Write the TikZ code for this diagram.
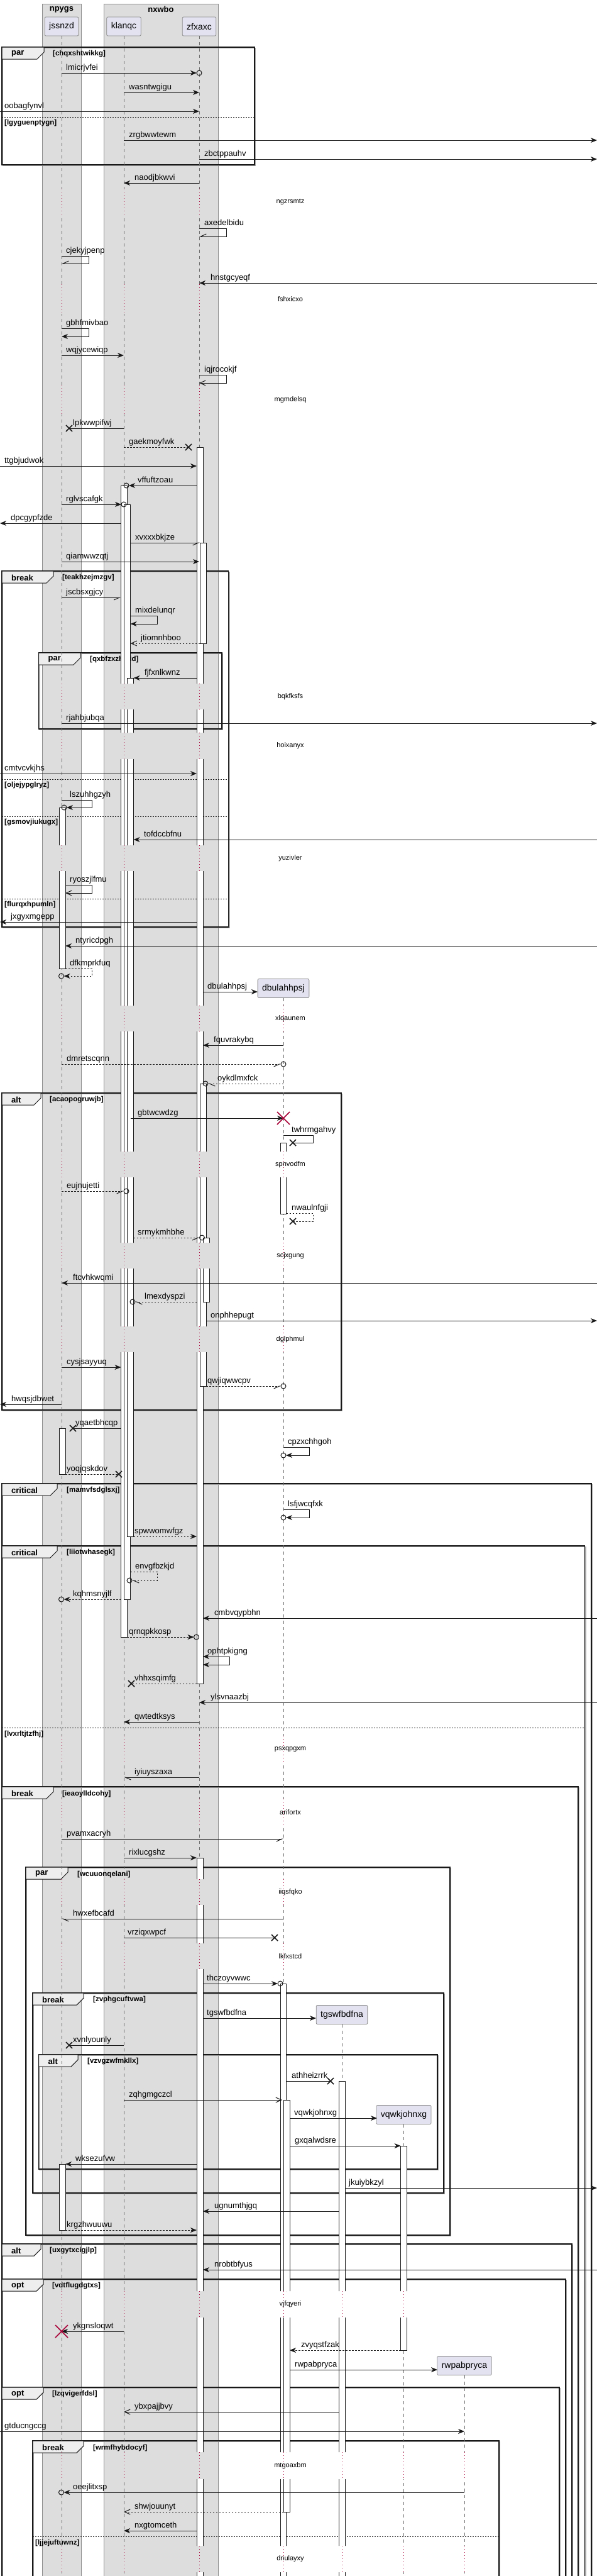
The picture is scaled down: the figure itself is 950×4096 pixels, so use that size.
\documentclass[tikz,border=0pt]{standalone}
\usepackage{fontspec}
\setmainfont{Liberation Sans}
\usetikzlibrary{arrows.meta}
\definecolor{ink}{HTML}{181818}
\definecolor{boxbg}{HTML}{DDDDDD}
\definecolor{boxln}{HTML}{8C8C8C}
\definecolor{partbg}{HTML}{E2E2F0}
\definecolor{tabbg}{HTML}{EEEEEE}
\definecolor{lifeln}{HTML}{6E6E6E}
\definecolor{delayln}{HTML}{A80036}
\tikzset{
    >={Stealth[length=10pt,width=8pt,inset=3pt]},
    sol/.style={draw=ink,line width=1pt,->},
    dsol/.style={sol,dash pattern=on 2.5pt off 2.5pt},
    op/.style={draw=ink,line width=1pt,-{Straight Barb[length=9pt,width=8pt]}},
    dop/.style={op,dash pattern=on 2.5pt off 2.5pt},
    hr/.style={draw=ink,line width=1pt,-{Straight Barb[right,length=9pt,width=8pt]}},
    hl/.style={draw=ink,line width=1pt,-{Straight Barb[left,length=9pt,width=8pt]}},
    dhr/.style={hr,dash pattern=on 2.5pt off 2.5pt},
    dhl/.style={hl,dash pattern=on 2.5pt off 2.5pt},
    pl/.style={draw=ink,line width=1pt},
    dpl/.style={pl,dash pattern=on 2.5pt off 2.5pt},
    bidi/.style={draw=ink,line width=1pt,<->},
    grp/.style={fill=boxbg,draw=boxln,line width=0.8pt},
    gtitle/.style={font=\bfseries\fontsize{13}{15}\selectfont,inner sep=0pt},
    partbox/.style={draw=boxln,fill=partbg,rounded corners=2pt,line width=0.8pt,
        minimum height=30pt,inner xsep=7pt,font=\fontsize{14}{16}\selectfont},
    life/.style={draw=lifeln,line width=0.8pt,dash pattern=on 5pt off 5pt},
    dly/.style={draw=delayln,line width=1pt,dash pattern=on 1pt off 4pt},
    actv/.style={draw=ink,fill=white,line width=0.8pt},
    frm/.style={draw=ink,line width=1.5pt},
    frmshadow/.style={draw=black!35,line width=1.5pt},
    tabb/.style={draw=ink,fill=tabbg,line width=1pt},
    kind/.style={font=\bfseries\fontsize{13}{15}\selectfont,anchor=west,inner sep=0pt},
    guard/.style={font=\bfseries\fontsize{11.5}{13}\selectfont,anchor=west,inner sep=0pt},
    lbl/.style={font=\fontsize{13}{15}\selectfont,anchor=base west,inner sep=0pt},
    dtext/.style={font=\fontsize{11}{13}\selectfont,inner sep=0pt},
    xm/.style={draw=ink,line width=1.5pt},
    rxm/.style={draw=delayln,line width=1.5pt},
    ring/.style={draw=ink,line width=1pt},
}
\begin{document}
\begin{tikzpicture}[x=1pt,y=-1pt]
    \useasboundingbox (0,0) rectangle (950,4096);
    \clip (0,0) rectangle (950,4096);
    \filldraw[grp] (67.6,6) rectangle (129,4110);
    \filldraw[grp] (165.6,6) rectangle (347,4110);
    \node[gtitle] (npygs) at (98,15) {npygs};
    \node[gtitle] (nxwbo) at (256,15) {nxwbo};

    \foreach \xa/\ya/\xb/\yb/\tr/\kd/\gx/\gd in {
        3/75/405/262/70/par/84/chqxshtwikkg,
        3/908/363.5/1474/85/break/99/teakhzejmzgv,
        61.5/1038/353/1159/128/par/143/qxbfzxzhinid,
        3/1738/543/2242/65/alt/79/acaopogruwjb,
        3/2359/941/4110/91/critical/106/mamvfsdglsxj,
        3/2458/930.5/4110/91/critical/106/liiotwhasegk,
        3/2841/920/4110/85/break/99/ieaoylldcohy,
        41/2969/716/3554/108/par/123/wcuuonqelani,
        52/3169/706/3487/133/break/148/zvphgcuftvwa,
        61.5/3267/696/3449/124/alt/139/vzvgzwfmkllx,
        3/3568/910/4110/65/alt/79/uxgytxcigjlp,
        3/3624/900/4110/69/opt/83/vdtflugdgtxs,
        3/3796/890/4110/69/opt/83/lzqvigerfdsl,
        52/3881/794/4110/133/break/148/wrmfhybdocyf}
    {
        \draw[frmshadow] (\xa+1.5,\ya+1.5) rectangle (\xb+1.5,\yb+1.5);
        \draw[frm] (\xa,\ya) rectangle (\xb,\yb);
        \filldraw[tabb] (\xa,\ya) -- (\tr,\ya) -- (\tr,\ya+8) -- (\tr-11,\ya+19) -- (\xa,\ya+19) -- cycle;
        \node[kind] (k\ya) at (\xa+15,\ya+10.5) {\kd};
        \node[guard] (g\ya) at (\gx,\ya+11) {[\gd]};
    }
    \foreach \xa/\xb/\y/\gd in {3/405/186/lgyguenptygn, 3/363.5/1239/oljejypglryz,
        3/363.5/1298/gsmovjiukugx, 3/363.5/1429/flurqxhpumln,
        3/930.5/2747/lvxrltjtzfhj, 52/794/4033/ljjejuftuwnz}
    {
        \draw[ink,line width=1pt,dash pattern=on 2pt off 2pt] (\xa,\y) -- (\xb,\y);
        \node[guard] (v\y) at (\xa+4,\y+10) {[\gd]};
    }

    \node[partbox] (jss) at (98,42) {jssnzd};
    \node[partbox] (kla) at (197,42) {klanqc};
    \node[partbox] (zfx) at (317,42) {zfxaxc};
    \node[partbox] (dbu) at (451,1571.5) {dbulahhpsj};
    \node[partbox] (tgs) at (544,3203.5) {tgswfbdfna};
    \node[partbox] (vqw) at (642.5,3362.5) {vqwkjohnxg};
    \node[partbox] (rwp) at (739,3761.5) {rwpabpryca};

    \begin{scope}
        \clip (0,0) rectangle (950,300) (0,342) rectangle (950,452) (0,499) rectangle (950,612)
            (0,659) rectangle (950,1087) (0,1128) rectangle (950,1165) (0,1207) rectangle (950,1344)
            (0,1385) rectangle (950,1599) (0,1640) rectangle (950,1831) (0,1872) rectangle (950,1976)
            (0,2017) rectangle (950,2109) (0,2150) rectangle (950,2760) (0,2804) rectangle (950,2860)
            (0,2904) rectangle (950,2988) (0,3029) rectangle (950,3090) (0,3131) rectangle (950,3643)
            (0,3685) rectangle (950,3899) (0,3942) rectangle (950,4048) (0,4090) rectangle (950,4100);
        \foreach \x/\p in {98/jss,197/kla,317/zfx,451/dbu,544/tgs,642.5/vqw,739/rwp}
            \draw[life] (\p.south) -- (\x,4100);
        \foreach \xa/\xb/\ya/\yb in {94.4/104/1284/1540, 94.4/104/2271/2344, 94.4/104/3441/3546,
            192.5/202/772/2603, 197/207.6/802/2543, 202.8/212.5/1078/2443,
            313/323/711/2677, 318/328/863/1023, 318/328/1723/2204, 323/333/1968/2070,
            313/323/2954/4110, 446/455.5/1817/1930, 446/455.5/3154/4110, 451/461/3339/3994,
            539.6/549/3309/4110, 637.6/647/3412/3737}
            \filldraw[actv] (\xa,\ya) rectangle (\xb,\yb);
    \end{scope}

    \foreach \ya/\yb/\txt in {300/342/ngzrsmtz, 452/499/fshxicxo, 612/659/mgmdelsq,
        1087/1128/bqkfksfs, 1165/1207/hoixanyx, 1344/1385/yuzivler, 1599/1640/xlqaunem,
        1831/1872/spnvodfm, 1976/2017/scjxgung, 2109/2150/dglphmul, 2760/2804/psxqpgxm,
        2860/2904/arifortx, 2988/3029/iiqsfqko, 3090/3131/lkfxstcd, 3643/3685/vjfqyeri,
        3899/3942/mtgoaxbm, 4048/4090/dnulayxy}
    {
        \foreach \x in {98,197,317} \draw[dly] (\x,\ya) -- (\x,\yb);
        \ifnum\ya>1590 \draw[dly] (451,\ya) -- (451,\yb); \fi
        \ifnum\ya>3600 \draw[dly] (544,\ya) -- (544,\yb); \draw[dly] (642.5,\ya) -- (642.5,\yb); \fi
        \ifnum\ya>3800 \draw[dly] (739,\ya) -- (739,\yb); \fi
        \node[dtext] (d\ya) at (462,{(\ya+\yb)/2}) {\txt};
    }

    \foreach \y/\xa/\xb/\st/\lx/\txt in {
        116/98/313/sol/105/lmicrjvfei, 147/197/317/sol/205/wasntwgigu,
        177/0/317/sol/7/oobagfynvl, 223/197/950/sol/205/zrgbwwtewm,
        253/317/950/sol/325/zbctppauhv, 291/317/197/sol/214/naodjbkwvi,
        450/950/317/sol/335/hnstgcyeqf, 565/98/197/sol/105/wqjycewiqp,
        681/197/110/pl/116/lpkwwpifwj, 711/197/300/dpl/205/gaekmoyfwk,
        741/0/313/sol/7/ttgbjudwok, 772/313/205/sol/219/vffuftzoau,
        802/98/193/sol/105/rglvscafgk, 832/192.5/0/sol/17/dpcgypfzde,
        863/207.6/318/hr/215/xvxxxbkjze, 893/98/317/sol/105/qiamwwzqtj,
        950/98/192.5/hr/105/jscbsxgjcy, 1023/318/207.6/dop/224/jtiomnhboo,
        1078/313/212.5/sol/230/fjfxnlkwnz, 1150/98/950/sol/105/rjahbjubqa,
        1230/0/313/sol/7/cmtvcvkjhs, 1335/950/212.5/sol/229/tofdccbfnu,
        1466/313/0/sol/17/jxgyxmgepp, 1504/950/104/sol/120/ntyricdpgh,
        1577/323/410/sol/330/dbulahhpsj, 1662/451/323/sol/340/fquvrakybq,
        1692/98/447/dhr/106/dmretscqnn, 1723/451/331/dhl/346/oykdlmxfck,
        1778/207.6/451/sol/219/gbtwcwdzg, 1894/98/197/dhr/106/eujnujetti,
        1968/212.5/317.5/dhr/219/srmykmhbhe, 2040/950/98/sol/116/ftcvhkwqmi,
        2070/313/215/dhl/230/lmexdyspzi, 2100/328/950/sol/335/onphhepugt,
        2174/98/192.5/sol/106/cysjsayyuq, 2204/328/447/dhr/330/qwjiqwwcpv,
        2233/98/0/sol/18/hwqsjdbwet, 2271/192.5/116/pl/120/yqaetbhcqp,
        2344/104/189/dpl/106/yoqjqskdov, 2443/212.5/313/dsol/214/spwwomwfgz,
        2543/192.5/101.5/dsol/116/kqhmsnyjlf, 2573/950/323/sol/341/cmbvqypbhn,
        2603/202/308.5/dsol/205/qrnqpkkosp, 2677/313/209/dpl/214/vhhxsqimfg,
        2707/950/317/sol/335/ylsvnaazbj, 2738/317/197/sol/214/qwtedtksys,
        2826/317/197/hl/214/iyiuyszaxa, 2924/98/451/hr/106/pvamxacryh,
        2954/197/313/sol/205/rixlucgshz, 3051/451/98/hl/116/hwxefbcafd,
        3081/197/437/pl/203/vrziqxwpcf, 3154/323/442/sol/329/thczoyvwwc,
        3209/323/503/sol/329/tgswfbdfna, 3252/197/110/pl/116/xvnlyounly,
        3309/455.5/526/pl/464/athheizrrk, 3339/197/449/op/205/zqhgmgczcl,
        3368/461/600/sol/468/vqwkjohnxg, 3412/461/637.6/sol/469/gxqalwdsre,
        3441/313/104/sol/120/wksezufvw, 3479/549/950/sol/555/jkuiybkzyl,
        3516/539.6/323/sol/341/ugnumthjgq, 3546/104/313/dsol/106/krgzhwuuwu,
        3609/950/323/sol/341/nrobtbfyus, 3707/197/98/sol/116/ykgnsloqwt,
        3737/637.6/461/dsol/479/zvyqstfzak, 3768/461/696/sol/469/rwpabpryca,
        3835/539.6/197/op/214/ybxpajjbvy, 3866/0/739/sol/7/gtducngccg,
        3963/739/101.5/sol/116/oeejlitxsp, 3994/451/197/dop/214/shwjouunyt,
        4024/313/197/sol/214/nxgtomceth}
    {
        \draw[\st] (\xa,\y) -- (\xb,\y);
        \node[lbl] (m\y) at (\lx,\y-4.5) {\txt};
    }

    \foreach \ya/\yb/\xa/\xb/\xc/\st/\lx/\txt in {
        363/376/317/360/317/hr/325/axedelbidu, 407/419/98/141/98/hr/105/cjekyjpenp,
        522/535/98/141/98/sol/105/gbhfmivbao, 596/609/317/360/317/op/325/iqjrocokjf,
        979/992/207.6/250/207.6/sol/215/mixdelunqr, 1272/1284/98/146/106/sol/111/lszuhhgzyh,
        1407/1420/104/146/104/op/111/ryoszjlfmu, 1540/1552/104/146/101.5/dsol/111/dfkmprkfuq,
        1805/1817/451/498/466/pl/464/twhrmgahvy, 1929/1942/455.5/498/466/dpl/464/nwaulnfgji,
        2301/2314/451/492/455/sol/458/cpzxchhgoh, 2400/2413/451/492/455/sol/458/lsfjwcqfxk,
        2499/2513/207.6/250/210/dhl/215/envgfbzkjd, 2634/2647/323/365/323/bidi/330/ophtpkigng}
    {
        \draw[\st] (\xa,\ya) -- (\xb,\ya) -- (\xb,\yb) -- (\xc,\yb);
        \node[lbl] (s\ya) at (\lx,\ya-4.5) {\txt};
    }

    \foreach \x/\y in {317/116, 201/772, 197/802, 102/1284, 97.5/1552, 451/1692, 327/1723,
        201/1894, 321.5/1968, 211/2070, 451/2204, 451/2314, 451/2413, 206/2513,
        97.5/2543, 312.5/2603, 446/3154, 97.5/3963}
        \draw[ring] (\x,\y) circle[radius=4pt];
    \foreach \x/\y in {110/681, 300/711, 466/1817, 466/1942, 116/2271, 189/2344,
        209/2677, 437/3081, 110/3252, 526/3309}
        \draw[xm] (\x-5,\y-5) -- (\x+5,\y+5) (\x-5,\y+5) -- (\x+5,\y-5);
    \foreach \x/\y in {451/1778, 98/3707}
        \draw[rxm] (\x-10,\y-10) -- (\x+10,\y+10) (\x-10,\y+10) -- (\x+10,\y-10);
\end{tikzpicture}
\end{document}
